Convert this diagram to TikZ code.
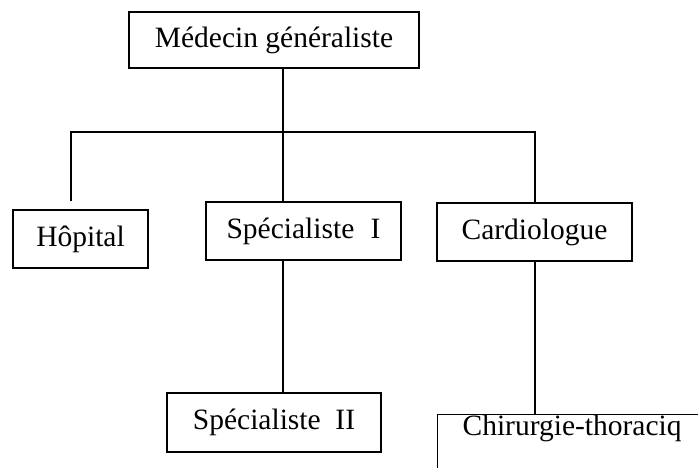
\documentclass[tikz,border=0pt]{standalone}
\usepackage{fontspec}
\setmainfont{Liberation Serif}
\usepackage{tikz}

\begin{document}
\begin{tikzpicture}[x=1pt, y=-1pt, line width=1.2pt,
    box/.style={draw, inner sep=0pt, font=\fontsize{29.5}{35}\selectfont}]
  \clip (0, 0) rectangle (698, 467);
  \node [box, minimum width=290, minimum height=56] (MG) at (274, 40) {Médecin généraliste};
  \node [box, minimum width=135, minimum height=58] (HO) at (80.5, 239) {Hôpital};
  \node [box, minimum width=195, minimum height=58] (S1) at (303.5, 231) {Spécialiste\hspace{0.55em}I};
  \node [box, minimum width=195, minimum height=58] (CA) at (534.5, 232) {Cardiologue};
  \node [box, minimum width=214, minimum height=59] (S2) at (274, 422.5) {Spécialiste\hspace{0.5em}II};
  \node [box, anchor=north west, inner xsep=25pt, inner ysep=1pt,
         text height=20pt, text depth=45pt] (CT) at (437, 414) {Chirurgie-thoraciq};
  \coordinate (HL) at (71, 132);
  \coordinate (BR) at (283, 132);
  \coordinate (HR) at (535, 132);
  \draw [shorten <=8pt] (HO.north -| HL) -- (HL) -- (HR) -- (CA.north -| HR);
  \draw (MG.south -| BR) -- (S1.north -| BR);
  \draw (S1.south -| BR) -- (S2.north -| BR);
  \draw (CA.south -| HR) -- (CT.north -| HR);
\end{tikzpicture}
\end{document}
